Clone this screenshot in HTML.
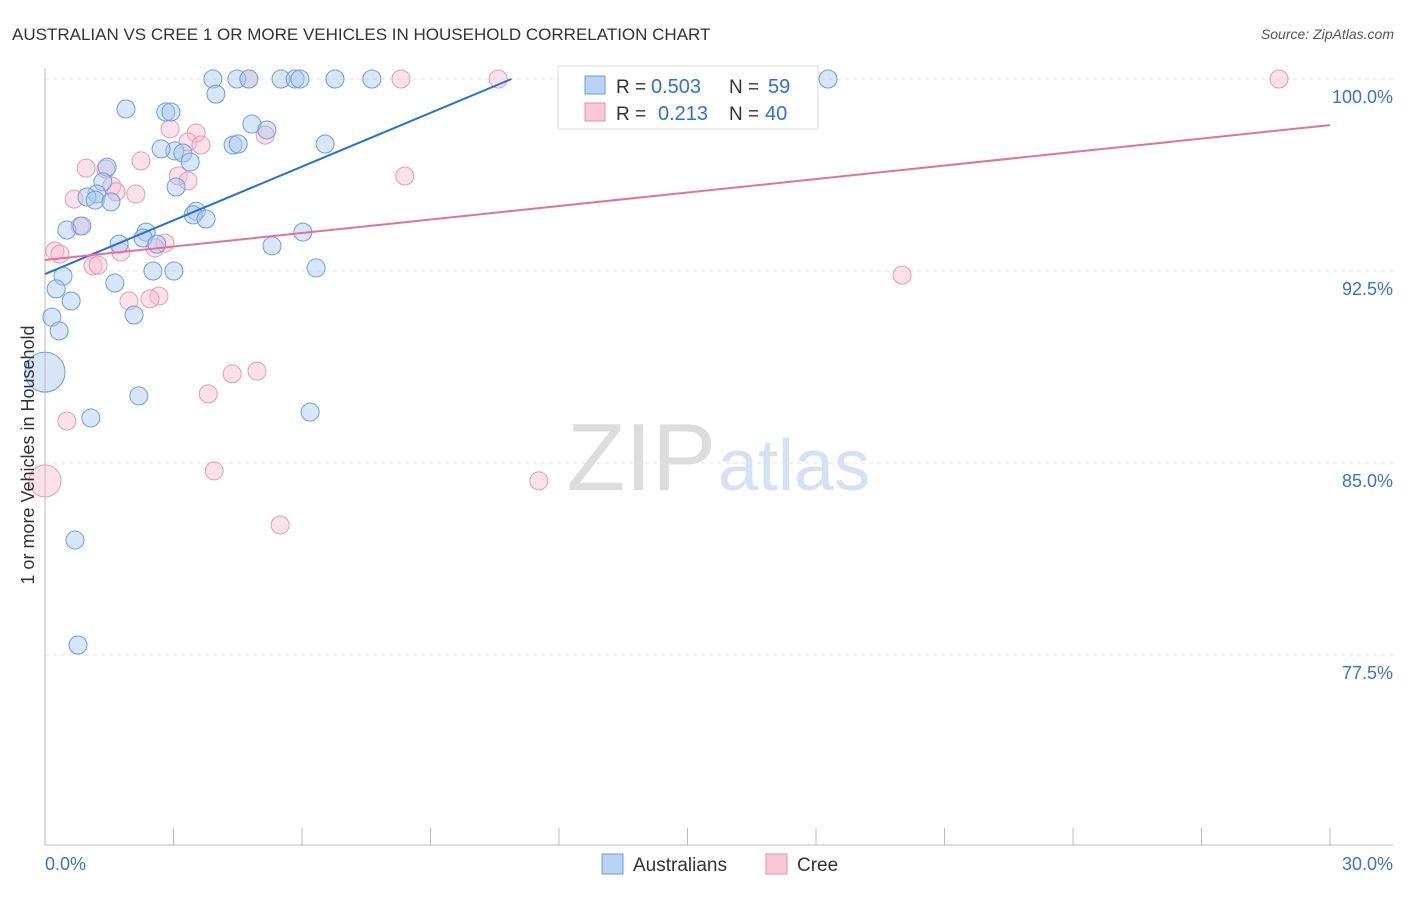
<!DOCTYPE html>
<html><head><meta charset="utf-8"><style>
body{margin:0;background:#fff;font-family:"Liberation Sans",sans-serif}
svg text{font-family:"Liberation Sans",sans-serif}
</style></head><body>
<svg id="chart" width="1406" height="892">
<text x="12" y="40" font-size="17" fill="#333">AUSTRALIAN VS CREE 1 OR MORE VEHICLES IN HOUSEHOLD CORRELATION CHART</text>
<text x="1394" y="39" font-size="14" fill="#555" font-style="italic" text-anchor="end">Source: ZipAtlas.com</text>
<text x="716" y="490" font-size="96" fill="#ddd" text-anchor="end" font-family="Liberation Serif,serif">ZIP</text>
<text x="718" y="490" font-size="72" fill="#d4e2f4">atlas</text>
<g id="grid"></g><g id="marks"></g>
<text transform="translate(34,455) rotate(-90)" font-size="18" fill="#333" text-anchor="middle">1 or more Vehicles in Household</text>
<g>
<rect x="558" y="66" width="260" height="63" fill="#fff" stroke="#ddd"/>
<rect x="585" y="76" width="20" height="18" fill="#b9d3f5" stroke="#6a9be0"/>
<rect x="585" y="103" width="20" height="18" fill="#f9c9d8" stroke="#e890ad"/>
<text x="616" y="93" font-size="19" fill="#333">R =</text>
<text x="651" y="93" font-size="20" fill="#2f6fd6">0.503</text>
<text x="729" y="93" font-size="19" fill="#333">N =</text>
<text x="768" y="93" font-size="20" fill="#2f6fd6">59</text>
<text x="616" y="120" font-size="19" fill="#333">R =</text>
<text x="658" y="120" font-size="20" fill="#2f6fd6">0.213</text>
<text x="729" y="120" font-size="19" fill="#333">N =</text>
<text x="765" y="120" font-size="20" fill="#2f6fd6">40</text>
</g>
<g>
<rect x="602" y="854" width="21" height="20" fill="#b9d3f5" stroke="#6a9be0"/>
<text x="633" y="871" font-size="19" fill="#333">Australians</text>
<rect x="766" y="854" width="21" height="20" fill="#f9c9d8" stroke="#e890ad"/>
<text x="797" y="871" font-size="19" fill="#333">Cree</text>
</g>
</svg>
<script>
const yTicks=[100,92.5,85,77.5];
const yTickLabels=["100.0%","92.5%","85.0%","77.5%"];
const xTicks=[0,3,6,9,12,15,18,21,24,27,30];
const blueX=[3.92,4.48,4.76,5.51,5.84,5.95,6.77,7.63,12.35,18.28,3.99,1.89,2.82,2.94,4.83,5.18,4.39,4.51,6.54,3.03,2.71,3.22,3.39,1.45,1.35,3.06,1.21,0.98,1.17,1.54,3.53,3.46,3.76,0.51,0.86,2.36,2.29,1.73,2.61,5.30,6.02,0.42,2.52,3.01,6.33,1.63,0.26,0.61,0.16,2.08,0.33,0,2.19,1.07,6.19,0.70,0.77];
const blueY=[100,100,100,100,100,100,100,100,100,100,99.41,98.83,98.71,98.71,98.24,98.01,97.42,97.46,97.46,97.19,97.27,97.11,96.76,96.56,95.98,95.78,95.51,95.39,95.27,95.20,94.84,94.69,94.53,94.10,94.26,94.02,93.79,93.55,93.55,93.48,94.02,92.30,92.50,92.50,92.62,92.03,91.80,91.33,90.70,90.78,90.16,88.55,87.62,86.76,86.99,81.99,77.89];
const blueBig=[51];
const pinkX=[4.76,8.31,10.58,14.26,28.81,2.92,3.53,3.34,3.64,5.14,2.24,0.96,1.42,3.11,3.34,8.40,1.56,2.12,0.68,1.66,0.82,0.23,0.35,2.80,2.57,1.77,1.12,1.24,1.96,2.66,2.45,20.01,4.37,4.95,3.81,0.51,3.95,0,11.53,5.49];
const pinkY=[100,100,100,100,100,98.05,97.89,97.54,97.42,97.81,96.80,96.52,96.48,96.21,96.02,96.21,95.82,95.51,95.31,95.59,94.26,93.28,93.16,93.59,93.40,93.24,92.70,92.73,91.33,91.52,91.41,92.34,88.48,88.59,87.70,86.64,84.69,84.30,84.30,82.58];
const pinkBig=[37];
const blueTrend=[0,92.38,10.89,100];
const pinkTrend=[0,92.93,30,98.2];
const X=v=>45+v/30*1285, Y=v=>79+(100-v)/7.5*192;
const NS="http://www.w3.org/2000/svg";
const grid=document.getElementById('grid'),marks=document.getElementById('marks');
function mk(tag,attrs,parent){const e=document.createElementNS(NS,tag);for(const k in attrs)e.setAttribute(k,attrs[k]);parent.appendChild(e);return e;}
yTicks.forEach((t,i)=>{
 const l=mk('line',{x1:45,x2:1393,y1:Y(t),y2:Y(t),stroke:'#e3e3e3','stroke-dasharray':'4,4'},grid);
 
 
 const tx=mk('text',{x:1393,y:Y(t)+24,'font-size':18,fill:'#3b73d0','text-anchor':'end'},grid);
 tx.textContent=yTickLabels[i];
 
 
});
const ax=mk('line',{x1:45,x2:1393,y1:845,y2:845,stroke:'#bbb'},grid);


const ay=mk('line',{x1:45,x2:45,y1:68,y2:845,stroke:'#bbb'},grid);


xTicks.forEach(t=>{
 const l=mk('line',{x1:X(t),x2:X(t),y1:828,y2:845,stroke:'#bbb'},grid);
 
 
});
[[0,'0.0%','start',45],[30,'30.0%','end',1393]].forEach(a=>{
 const tx=mk('text',{x:a[3],y:870,'font-size':18,fill:'#3b73d0','text-anchor':a[2]},grid);
 tx.textContent=a[1];
 
 
});
function pts(xs,ys,big,fill,stroke,name,bigR){
 xs.forEach((x,i)=>{
  const r=big.includes(i)?bigR:9;
  const c=mk('circle',{cx:X(x),cy:Y(ys[i]),r:r,fill:fill,'fill-opacity':0.45,stroke:stroke,'stroke-width':1},marks);
  
  
 });
}
pts(pinkX,pinkY,pinkBig,'#f7bfd1','#e79ab5','cree-point',16);
pts(blueX,blueY,blueBig,'#a9c8f0','#6d9ee0','australians-point',20);
const bl=mk('line',{x1:X(blueTrend[0]),y1:Y(blueTrend[1]),x2:X(blueTrend[2]),y2:Y(blueTrend[3]),stroke:'#2571d8','stroke-width':2},marks);


const pl=mk('line',{x1:X(pinkTrend[0]),y1:Y(pinkTrend[1]),x2:X(pinkTrend[2]),y2:Y(pinkTrend[3]),stroke:'#e5709a','stroke-width':2},marks);


</script>
</body></html>
